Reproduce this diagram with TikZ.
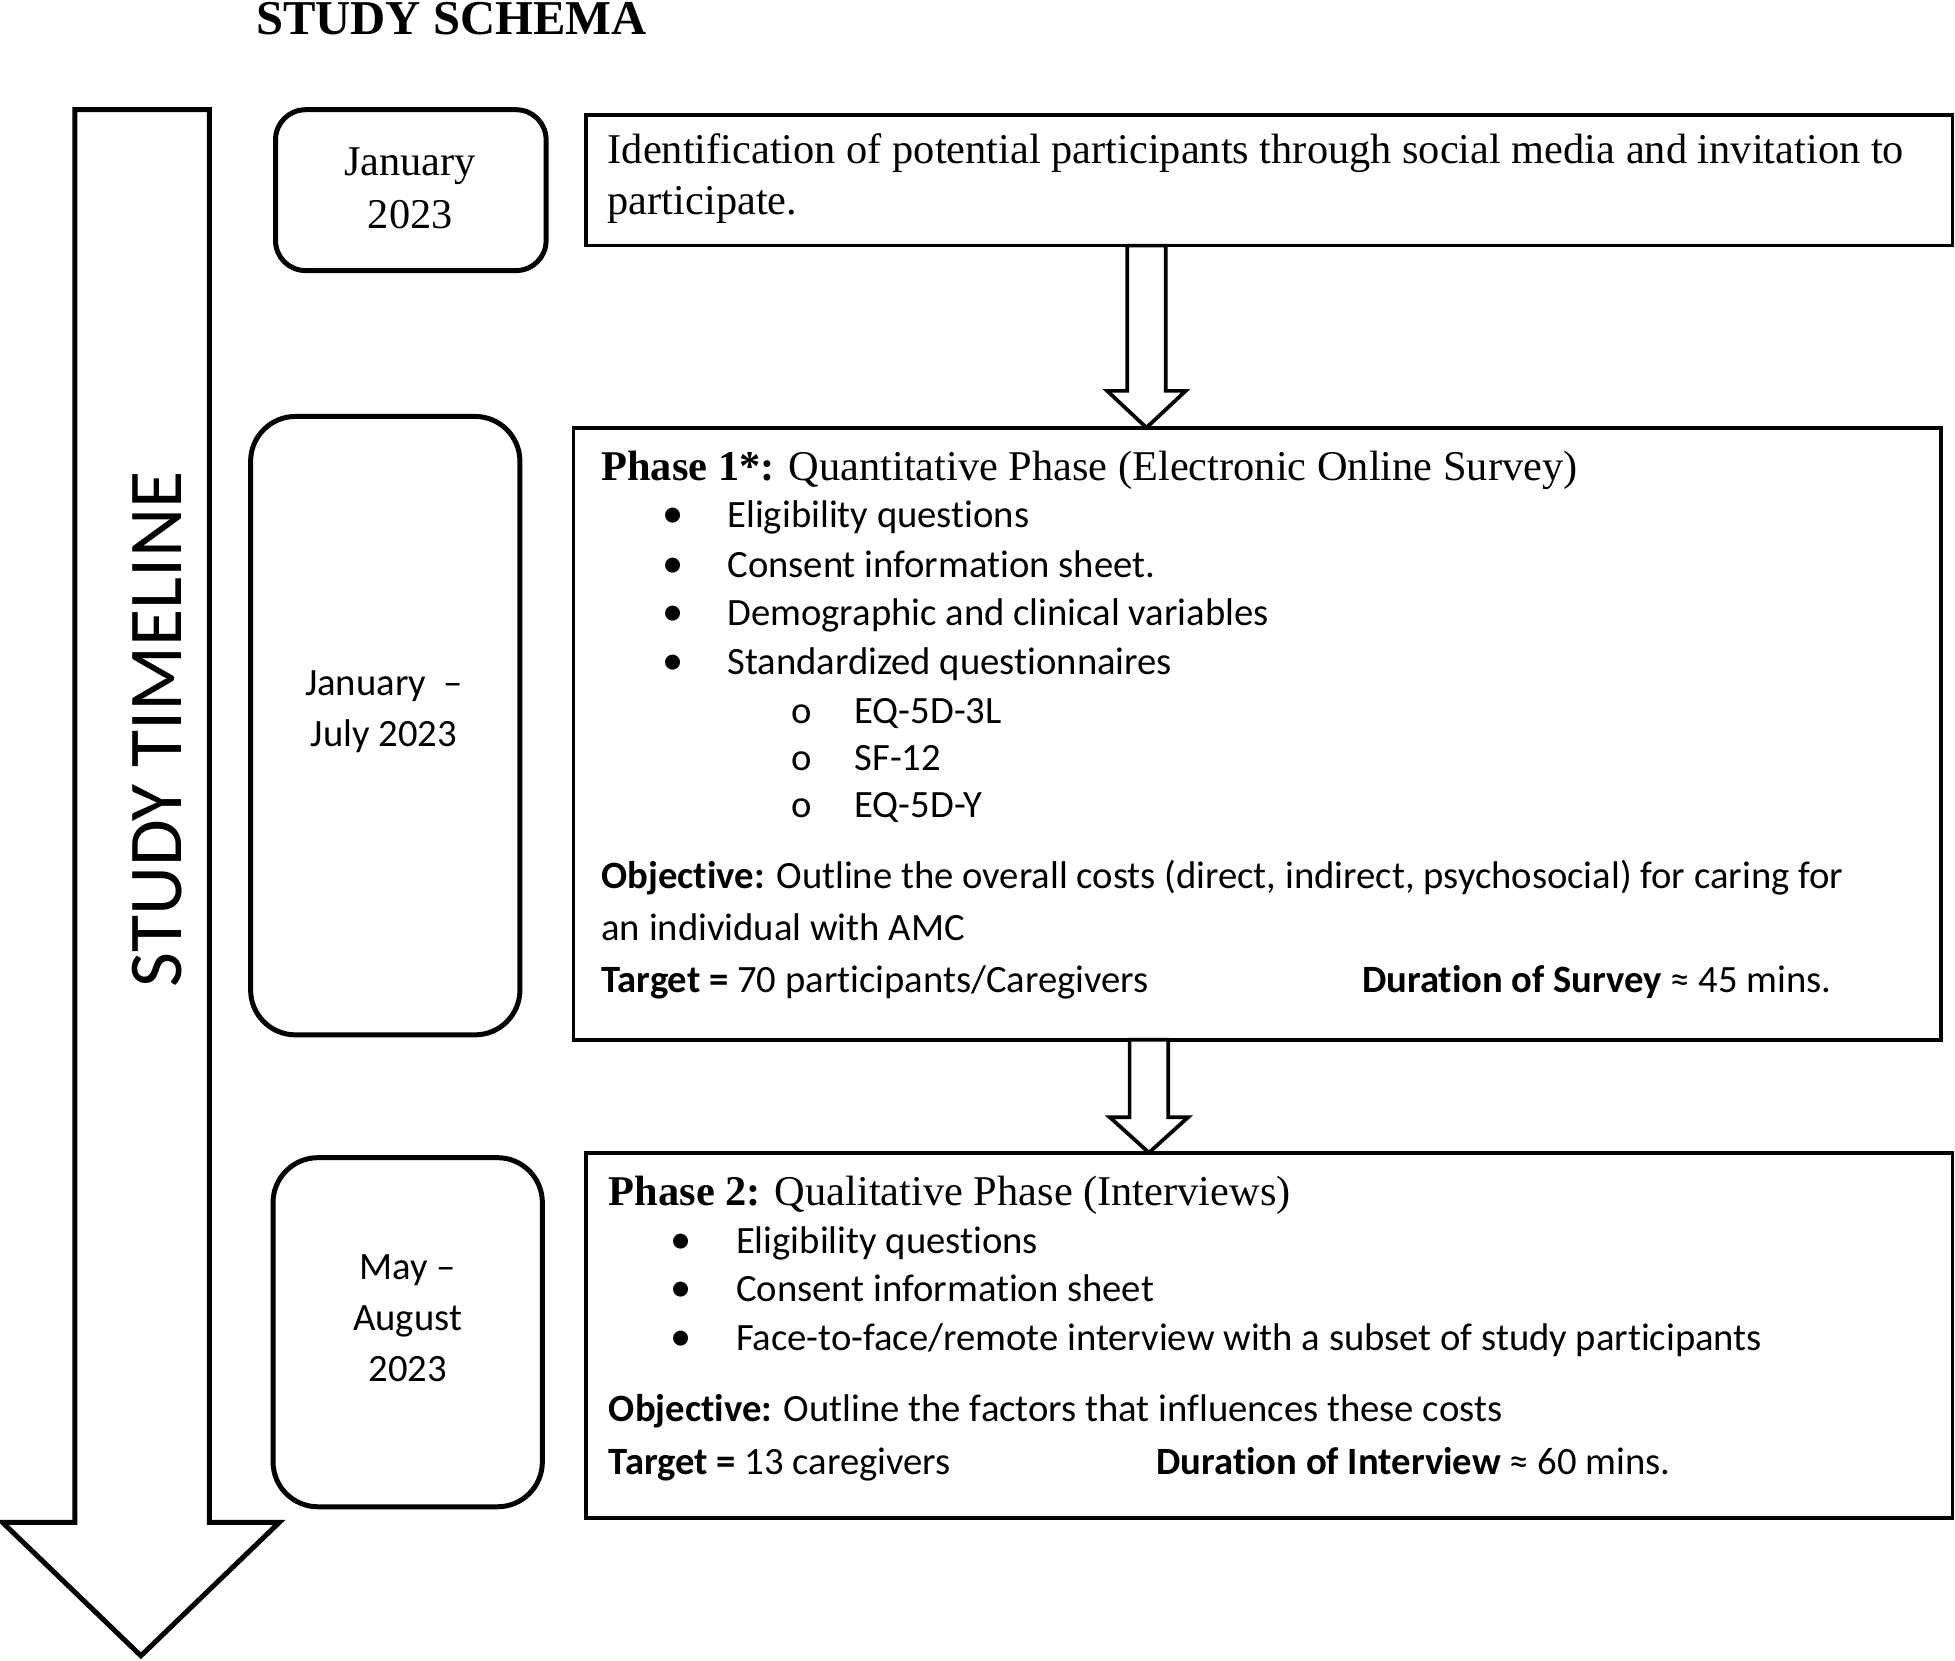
\documentclass[tikz,border=0pt]{standalone}
\usepackage{fontspec}
\setmainfont{Liberation Serif}
\setsansfont{Carlito}[Ligatures=NoCommon]
\usetikzlibrary{calc}

\def\downblock#1#2#3{
  \draw[blockarrow] ($(#1)+(-15.5,0)$) -- ($(#2)+(-15.5,-#3)$) -- ($(#2)+(-31.5,-#3)$) -- (#2)
    -- ($(#2)+(31.5,-#3)$) -- ($(#2)+(15.5,-#3)$) -- ($(#1)+(15.5,0)$) -- cycle;
}
\tikzset{
  datebox/.style={draw,line width=2pt,outer sep=0pt},
  stagebox/.style={draw,line width=1.5pt,outer sep=0pt,inner sep=0pt},
  blockarrow/.style={draw,line width=1.5pt,fill=white},
  serif/.style={anchor=base west,inner sep=0pt,font=\fontsize{17}{21}\selectfont},
  sans/.style={anchor=base west,inner sep=0pt,font=\sffamily\fontsize{15.5}{20}\selectfont},
  bullet/.style={anchor=base,inner sep=0pt,font=\sffamily\fontsize{17}{20}\selectfont},
  subbullet/.style={anchor=base,inner sep=0pt,font=\sffamily\fontsize{15.5}{20}\selectfont},
  datetext/.style={align=center,inner sep=0pt,font=\sffamily\fontsize{15.5}{20.5}\selectfont},
}

\begin{document}
\begin{tikzpicture}[x=0.5pt,y=-0.5pt]
  \useasboundingbox (0,0) rectangle (1568,1332);
  \node[serif,font=\bfseries\fontsize{19.5}{23}\selectfont] (title) at (205,28) {STUDY SCHEMA};

  % timeline
  \draw[line width=2pt] (60,88) -- (168,88) -- (168,1221) -- (224,1221) -- (113,1328)
    -- (2,1221) -- (60,1221) -- cycle;
  \node[inner sep=0pt,rotate=90,font=\sffamily\fontsize{30.5}{36}\selectfont] (timeline) at (126,585) {STUDY TIMELINE};

  % dates
  \node[datebox,rounded corners=12pt,minimum width=108.5pt,minimum height=64.5pt] (date1) at (329.5,152.5) {};
  \node[datetext,font=\fontsize{17}{21}\selectfont] (date1text) at (329,151) {January\\2023};
  \node[datebox,rounded corners=18pt,minimum width=108pt,minimum height=248pt] (date2) at (309,582) {};
  \node[datetext] (date2text) at (308,571) {January~~–\\July 2023};
  \node[datebox,rounded corners=18pt,minimum width=108pt,minimum height=140pt] (date3) at (327,1068.5) {};
  \node[datetext] (date3text) at (327,1057) {May –\\August\\2023};

  % stages
  \node[stagebox,minimum width=548pt,minimum height=52.5pt] (ident) at (1018,144.5) {};
  \node[serif] (identline1) at (487,131) {Identification of potential participants through social media and invitation to};
  \node[serif] (identline2) at (487,172) {participate.};

  \node[stagebox,minimum width=548.5pt,minimum height=245.5pt] (phaseone) at (1008.5,588.5) {};
  \node[serif] (phaseonehead) at (482,385) {\textbf{Phase 1*:} Quantitative Phase (Electronic Online Survey)};
  \foreach \txt/\yy [count=\i] in {Eligibility questions/423,Consent information sheet./463,Demographic and clinical variables/502,Standardized questionnaires/541} {
    \node[bullet] (pa-dot\i) at (540,\yy) {•};
    \node[sans] (pa-item\i) at (583,\yy) {\txt};
  }
  \foreach \txt/\yy [count=\i] in {EQ-5D-3L/580,SF-12/618,EQ-5D-Y/656} {
    \node[subbullet] (pa-circ\i) at (643,\yy) {o};
    \node[sans] (pa-sub\i) at (685,\yy) {\txt};
  }
  \node[sans] (pa-obj1) at (482,713) {\textbf{Objective:} Outline the overall costs (direct, indirect, psychosocial) for caring for};
  \node[sans] (pa-obj2) at (482,754) {an individual with AMC};
  \node[sans] (pa-target) at (482,796) {\textbf{Target =} 70 participants/Caregivers};
  \node[sans] (pa-duration) at (1092,796) {\textbf{Duration of Survey} ≈ 45 mins.};

  \node[stagebox,minimum width=548pt,minimum height=146.5pt] (phasetwo) at (1018,1071) {};
  \node[serif] (phasetwohead) at (488,967) {\textbf{Phase 2:} Qualitative Phase (Interviews)};
  \foreach \txt/\yy [count=\i] in {Eligibility questions/1005,Consent information sheet/1044,{Face-to-face/remote interview with a subset of study participants}/1083} {
    \node[bullet] (pb-dot\i) at (546,\yy) {•};
    \node[sans] (pb-item\i) at (590,\yy) {\txt};
  }
  \node[sans] (pb-obj) at (488,1140) {\textbf{Objective:} Outline the factors that influences these costs};
  \node[sans] (pb-target) at (488,1183) {\textbf{Target =} 13 caregivers};
  \node[sans] (pb-duration) at (927,1183) {\textbf{Duration of Interview} ≈ 60 mins.};

  % arrows between stages
  \coordinate (axisA) at (919.5,0);
  \coordinate (axisB) at (921.5,0);
  \downblock{ident.south -| axisA}{phaseone.north -| axisA}{29.5}
  \downblock{phaseone.south -| axisB}{phasetwo.north -| axisB}{28.5}
\end{tikzpicture}
\end{document}
